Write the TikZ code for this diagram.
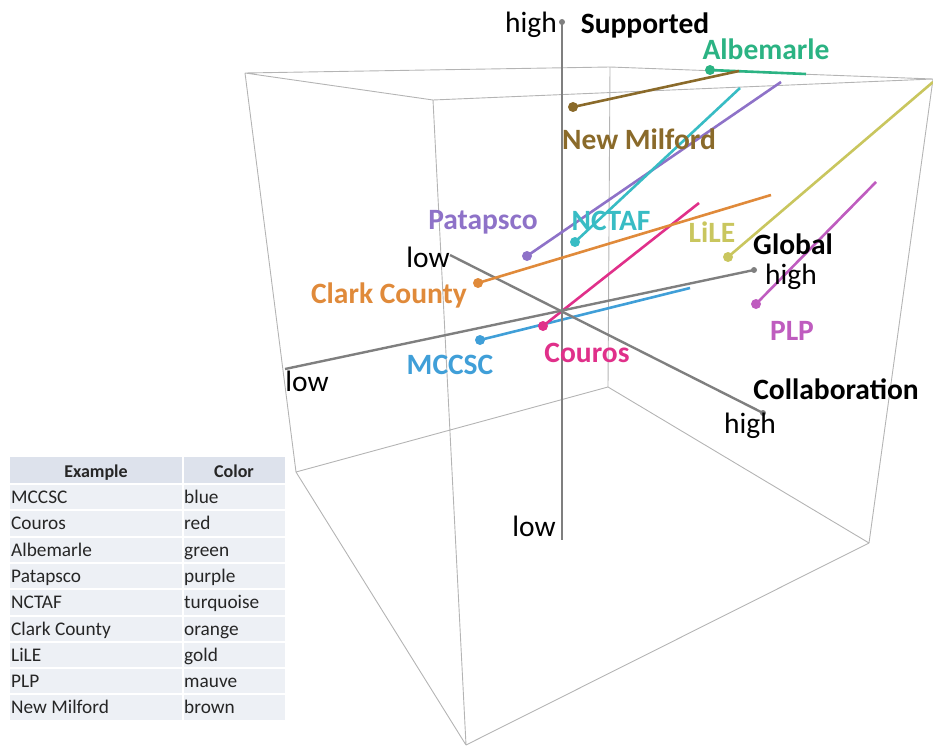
\documentclass[tikz,border=0pt]{standalone}
\usepackage{fontspec}
\setmainfont{Carlito}
\definecolor{cubeline}{HTML}{B4B4B4}
\definecolor{axisgray}{HTML}{7F7F7F}
\definecolor{cAlb}{HTML}{2BB383}
\definecolor{cMil}{HTML}{8A6A2A}
\definecolor{cPat}{HTML}{8E72C8}
\definecolor{cNct}{HTML}{38BCC4}
\definecolor{cCla}{HTML}{E08A3A}
\definecolor{cLil}{HTML}{C9C65E}
\definecolor{cPlp}{HTML}{BF5CBF}
\definecolor{cMcc}{HTML}{409FD8}
\definecolor{cCou}{HTML}{E0308A}
\definecolor{thead}{HTML}{DDE2EC}
\definecolor{trow}{HTML}{EDF0F5}
\tikzset{
  cube/.style={draw=cubeline, line width=0.9pt},
  axisline/.style={draw=axisgray, line width=2.4pt},
  axisdot/.style={circle, fill=axisgray, inner sep=0pt, minimum size=6pt},
  series/.style={line width=2.6pt},
  sdot/.style={circle, inner sep=0pt, minimum size=10pt},
  axislbl/.style={font=\fontsize{29.5}{32}\selectfont, text=black, inner sep=0pt},
  axistitle/.style={font=\bfseries\fontsize{29.5}{32}\selectfont, text=black, inner sep=0pt},
  datalbl/.style={font=\bfseries\fontsize{29.5}{32}\selectfont, inner sep=0pt},
  tcell/.style={font=\fontsize{19.3}{21}\selectfont, anchor=base west, inner sep=0pt, text=black!85},
  thcell/.style={font=\bfseries\fontsize{18}{20}\selectfont, anchor=base, inner sep=0pt, text=black!85},
}
\begin{document}
\begin{tikzpicture}[x=1pt, y=-1pt]
\useasboundingbox (0,0) rectangle (933,746);
% cube vertices
\coordinate (A) at (466,745);
\coordinate (B) at (296,472);
\coordinate (C) at (869,543);
\coordinate (D) at (608,387);
\coordinate (E) at (433,100);
\coordinate (F) at (245,73);
\coordinate (G) at (933,79);
\coordinate (H) at (610,67);
\draw[cube] (A)--(B) (A)--(C) (A)--(E) (B)--(D) (C)--(D) (B)--(F)
  (C)--(G) (D)--(H) (E)--(F) (E)--(G) (F)--(H) (G)--(H);
% axes
\coordinate (vtop) at (562,22);
\coordinate (vbot) at (562,540);
\coordinate (glow) at (285,369);
\coordinate (ghigh) at (754,270);
\coordinate (clow) at (450,255);
\coordinate (chigh) at (763,413);
% series end points
\coordinate (albS) at (710,70);  \coordinate (albE) at (806,74);
\coordinate (milS) at (573,107); \coordinate (milE) at (739,71);
\coordinate (patS) at (527,256); \coordinate (patE) at (781,82);
\coordinate (nctS) at (575,242); \coordinate (nctE) at (740,88);
\coordinate (claS) at (478,283); \coordinate (claE) at (771,195);
\coordinate (lilS) at (728,257); \coordinate (lilE) at (933,82);
\coordinate (plpS) at (756,304); \coordinate (plpE) at (876,182);
\coordinate (mccS) at (480,340); \coordinate (mccE) at (690,288);
\coordinate (couS) at (543,326); \coordinate (couE) at (699,203);
\draw[series, cMcc] (mccS)--(mccE);
\draw[series, cCou] (couS)--(couE);
\draw[axisline] (glow)--(ghigh);
\draw[axisline] (clow)--(chigh);
\draw[axisline] (vtop)--(vbot);
\node[axisdot] (vtopdot) at (vtop) {};
\node[axisdot] (ghighdot) at (ghigh) {};
\node[axisdot] (chighdot) at (chigh) {};
\draw[series, cAlb] (albS)--(albE);
\draw[series, cMil] (milS)--(milE);
\draw[series, cPat] (patS)--(patE);
\draw[series, cNct] (nctS)--(nctE);
\draw[series, cCla] (claS)--(claE);
\draw[series, cLil] (lilS)--(lilE);
\draw[series, cPlp] (plpS)--(plpE);
\node[sdot, fill=cAlb] (albdot) at (albS) {};
\node[sdot, fill=cMil] (mildot) at (milS) {};
\node[sdot, fill=cPat] (patdot) at (patS) {};
\node[sdot, fill=cNct] (nctdot) at (nctS) {};
\node[sdot, fill=cCla] (cladot) at (claS) {};
\node[sdot, fill=cLil] (lildot) at (lilS) {};
\node[sdot, fill=cPlp] (plpdot) at (plpS) {};
\node[sdot, fill=cMcc] (mccdot) at (mccS) {};
\node[sdot, fill=cCou] (coudot) at (couS) {};
% axis labels
\node[axislbl] (lhighv) at (531,25) {high};
\node[axistitle] (lsupp) at (645,25) {Supported};
\node[axislbl] (llowv) at (534,526) {low};
\node[axistitle] (lglob) at (793,244) {Global};
\node[axislbl] (lhighg) at (791,277) {high};
\node[axislbl] (llowg) at (307,381) {low};
\node[axislbl] (llowc) at (428,257) {low};
\node[axistitle] (lcoll) at (836,389) {Collaboration};
\node[axislbl] (lhighc) at (750,426) {high};
% data labels
\node[datalbl, text=cAlb] (lalb) at (766,49) {Albemarle};
\node[datalbl, text=cMil] (lmil) at (639,139) {New Milford};
\node[datalbl, text=cPat] (lpat) at (483,222) {Patapsco};
\node[datalbl, text=cNct] (lnct) at (611,221) {NCTAF};
\node[datalbl, text=cLil] (llil) at (712,232) {LiLE};
\node[datalbl, text=cCla] (lcla) at (389,295) {Clark County};
\node[datalbl, text=cPlp] (lplp) at (792,331) {PLP};
\node[datalbl, text=cMcc] (lmcc) at (450,365) {MCCSC};
\node[datalbl, text=cCou] (lcou) at (587,353) {Couros};
% table
\fill[thead] (10,457) rectangle (182,483);
\fill[thead] (184,457) rectangle (285,483);
\foreach \i in {0,...,8} {
  \fill[trow] (10,{485+\i*26.3}) rectangle (182,{509.3+\i*26.3});
  \fill[trow] (184,{485+\i*26.3}) rectangle (285,{509.3+\i*26.3});
}
\node[thcell] (th1) at (96,477) {Example};
\node[thcell] (th2) at (234,477) {Color};
\node[tcell] (r1a) at (11,503.5) {MCCSC};        \node[tcell] (r1b) at (184,503.5) {blue};
\node[tcell] (r2a) at (11,529.8) {Couros};       \node[tcell] (r2b) at (184,529.8) {red};
\node[tcell] (r3a) at (11,556.1) {Albemarle};    \node[tcell] (r3b) at (184,556.1) {green};
\node[tcell] (r4a) at (11,582.4) {Patapsco};     \node[tcell] (r4b) at (184,582.4) {purple};
\node[tcell] (r5a) at (11,608.7) {NCTAF};        \node[tcell] (r5b) at (184,608.7) {turquoise};
\node[tcell] (r6a) at (11,635.0) {Clark County}; \node[tcell] (r6b) at (184,635.0) {orange};
\node[tcell] (r7a) at (11,661.3) {LiLE};         \node[tcell] (r7b) at (184,661.3) {gold};
\node[tcell] (r8a) at (11,687.6) {PLP};          \node[tcell] (r8b) at (184,687.6) {mauve};
\node[tcell] (r9a) at (11,713.9) {New Milford};  \node[tcell] (r9b) at (184,713.9) {brown};
\end{tikzpicture}
\end{document}
